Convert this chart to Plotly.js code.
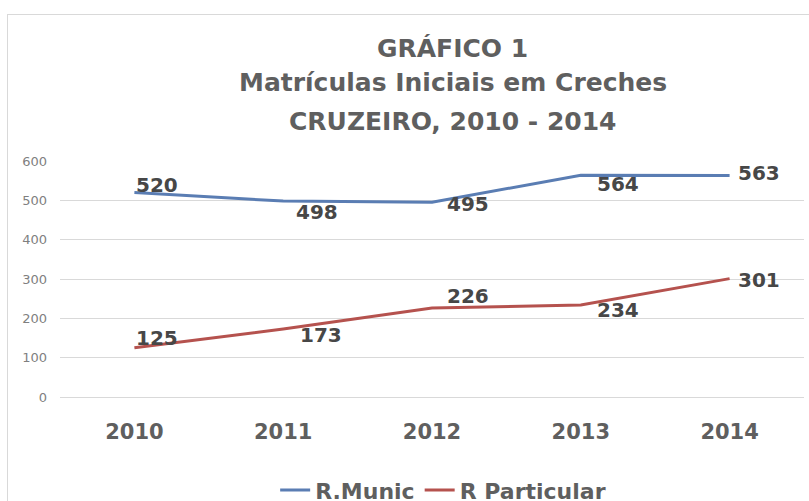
<!DOCTYPE html>
<html>
<head>
<meta charset="utf-8">
<script src="https://cdn.plot.ly/plotly-3.0.1.min.js"></script>
<style>
  html, body { margin: 0; padding: 0; background: #ffffff; }
  #wrap { position: relative; width: 809px; height: 501px; overflow: hidden; }
  #chart { position: absolute; left: 0; top: 0; width: 809px; height: 501px; }
  #frame { position: absolute; left: 7px; top: 14px; width: 900px; height: 700px;
           border: 1.5px solid #d9d9d9; pointer-events: none; }
</style>
</head>
<body>
<div id="wrap">
  <div id="chart"></div>
  <div id="frame"></div>
</div>
<script>
// ---- data ----
const years = [2010, 2011, 2012, 2013, 2014];
const yearLabels = ['2010', '2011', '2012', '2013', '2014'];
const seriesNames = ['R.Munic', 'R Particular'];
const munic = [520, 498, 495, 564, 563];
const particular = [125, 173, 226, 234, 301];
const yTicks = [0, 100, 200, 300, 400, 500, 600];
const titleLines = ['GRÁFICO 1', 'Matrículas Iniciais em Creches', 'CRUZEIRO, 2010 - 2014'];

// ---- label offsets (pixels, style only) ----
const municOffX = [23, 34, 36, 37, 29];
const municOffY = [7, -11, -2, -9, 3];
const partOffX = [23, 38, 36, 37, 29];
const partOffY = [10, -6, 12, -5, -1];

const colors = ['#5a7db3', '#b5524e'];

const traces = [
  { x: years, y: munic, name: seriesNames[0], type: 'scatter', mode: 'lines',
    line: { color: colors[0], width: 3 } },
  { x: years, y: particular, name: seriesNames[1], type: 'scatter', mode: 'lines',
    line: { color: colors[1], width: 3 } }
];

function labelFont() {
  return { family: 'DejaVu Sans', size: 20, color: '#474747', weight: 'bold' };
}

const annotations = [];
years.forEach((yr, i) => {
  annotations.push({ x: yr, y: munic[i], xref: 'x', yref: 'y', text: String(munic[i]),
    showarrow: false, xshift: municOffX[i], yshift: municOffY[i], font: labelFont() });
  annotations.push({ x: yr, y: particular[i], xref: 'x', yref: 'y', text: String(particular[i]),
    showarrow: false, xshift: partOffX[i], yshift: partOffY[i], font: labelFont() });
});
const titleY = [1.477, 1.332, 1.166];
titleLines.forEach((t, i) => {
  annotations.push({ x: 0.528, y: titleY[i], xref: 'paper', yref: 'paper', text: t,
    showarrow: false, xanchor: 'center', yanchor: 'middle',
    font: { family: 'DejaVu Sans', size: 25, color: '#5f5f5f', weight: 'bold' } });
});

const layout = {
  width: 809, height: 501,
  margin: { l: 60, r: 5, t: 161, b: 104, autoexpand: false },
  paper_bgcolor: 'rgba(0,0,0,0)', plot_bgcolor: 'rgba(0,0,0,0)',
  showlegend: true,
  legend: { orientation: 'h', x: 0.515, xanchor: 'center', y: -0.395, yanchor: 'middle',
    font: { family: 'DejaVu Sans', size: 22, color: '#5f5f5f', weight: 'bold' },
    itemwidth: 30, tracegroupgap: 0 },
  xaxis: { type: 'linear', range: [2009.5, 2014.5], tickvals: years, ticktext: yearLabels,
    showgrid: false, zeroline: false, showline: false, ticks: '', ticklabelstandoff: 20,
    tickfont: { family: 'DejaVu Sans', size: 21, color: '#5f5f5f', weight: 'bold' } },
  yaxis: { range: [0, 600], tickvals: yTicks, ticktext: yTicks.map(String),
    showgrid: true, gridcolor: '#d9d9d9', gridwidth: 1, zeroline: true, zerolinecolor: '#d9d9d9',
    showline: false, ticks: '', ticklabelstandoff: 12,
    tickfont: { family: 'DejaVu Sans', size: 13, color: '#7f7f7f' } },
  annotations: annotations
};

Plotly.newPlot('chart', traces, layout, { displayModeBar: false, staticPlot: true });
</script>
</body>
</html>
